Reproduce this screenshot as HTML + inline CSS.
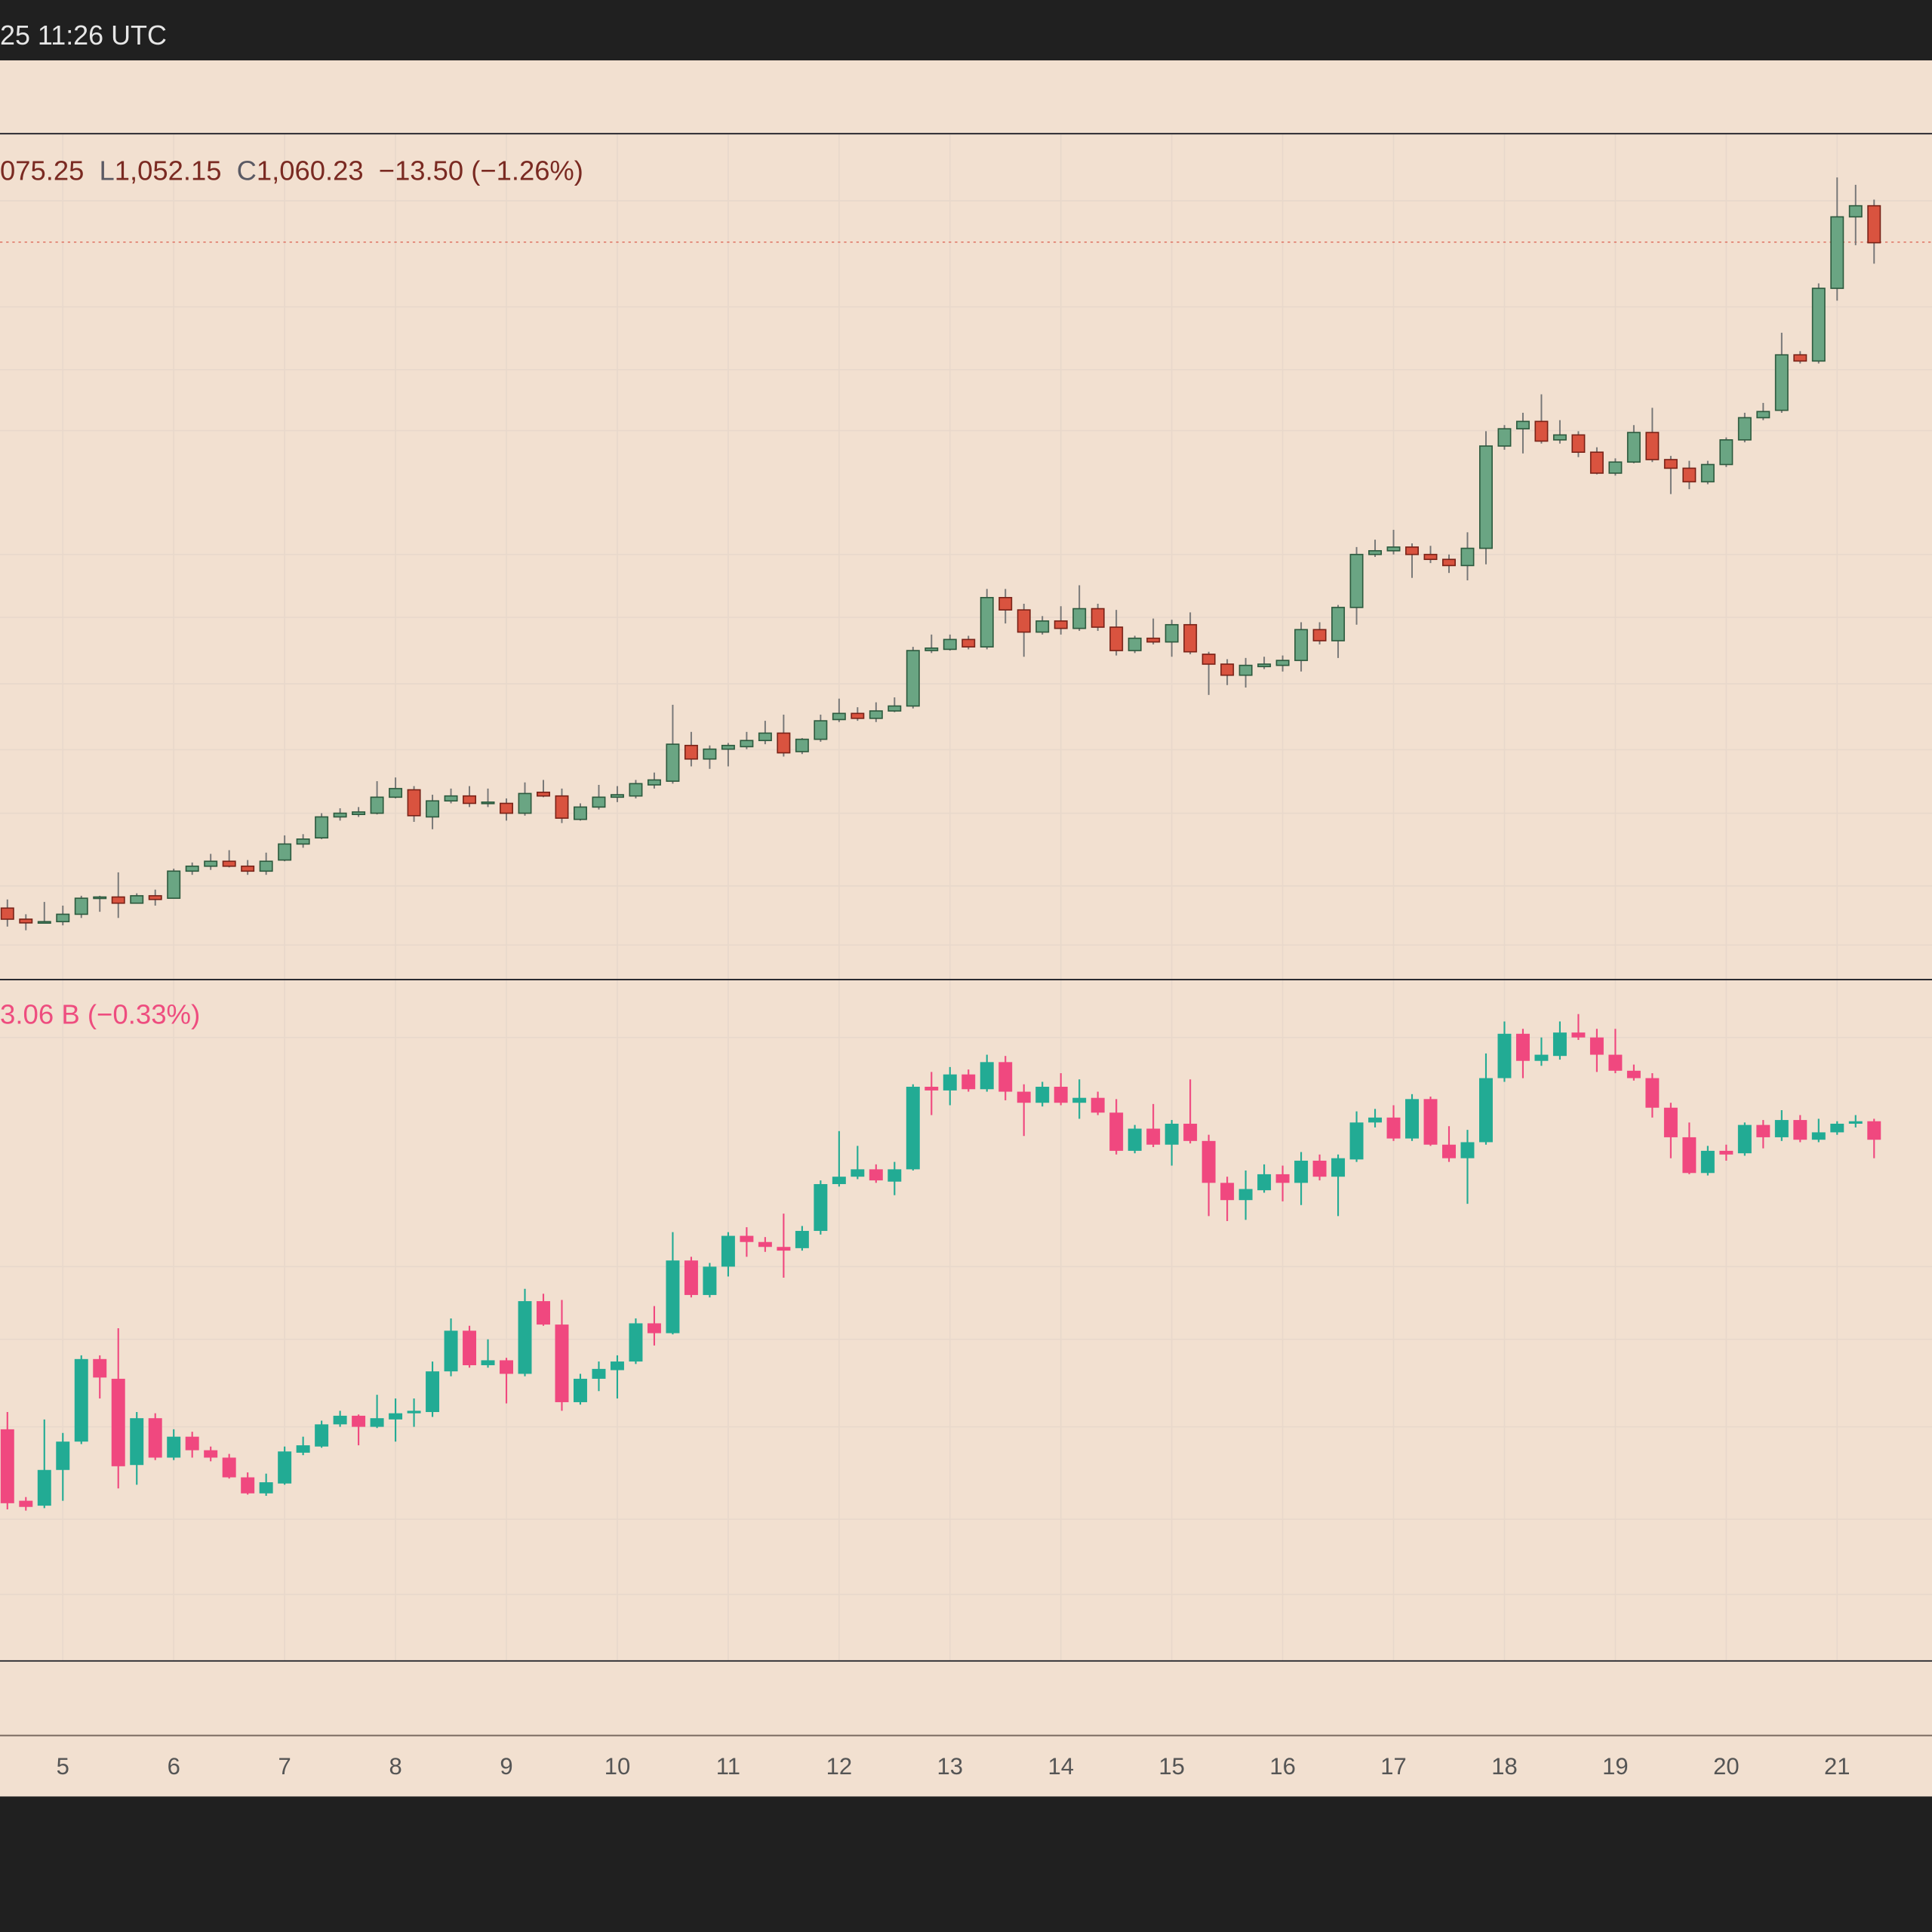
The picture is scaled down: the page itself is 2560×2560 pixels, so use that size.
<!DOCTYPE html>
<html><head><meta charset="utf-8"><style>
html,body{margin:0;padding:0;background:#f2e0d0;}
svg{display:block;}
text{font-family:"Liberation Sans",sans-serif;}
</style></head><body>
<svg id="s" xmlns="http://www.w3.org/2000/svg" width="2560" height="2560" viewBox="0 0 1568 1568">
<rect x="0" y="0" width="1568" height="1568" fill="#f2e0d0"/>
<g id="grid" stroke="#e8d8cb" stroke-width="1"></g>
<rect x="0" y="0" width="1568" height="49" fill="#202020"/>
<text x="0" y="36" font-size="22" fill="#e6e6e6">25 11:26 UTC</text>
<line x1="0" y1="108.5" x2="1568" y2="108.5" stroke="#2a2a30" stroke-width="1.2"/>
<line x1="0" y1="795" x2="1568" y2="795" stroke="#2a2a30" stroke-width="1.2"/>
<line x1="0" y1="1348" x2="1568" y2="1348" stroke="#2a2a30" stroke-width="1.2"/>
<line x1="0" y1="1408.5" x2="1568" y2="1408.5" stroke="#7a6a60" stroke-width="1.2"/>
<rect x="0" y="1458" width="1568" height="110" fill="#202020"/>
<line x1="0" y1="196.5" x2="1568" y2="196.5" stroke="#e07a6a" stroke-width="1" stroke-dasharray="2,3"/>
<text x="0" y="146" font-size="22.3" fill="#7a2a22" xml:space="preserve">075.25  <tspan fill="#5a5a64">L</tspan>1,052.15  <tspan fill="#5a5a64">C</tspan>1,060.23  −13.50 (−1.26%)</text>
<text x="0" y="831" font-size="22.4" fill="#ee4d7f">3.06 B (−0.33%)</text>
<g id="ax" font-size="19" fill="#555" text-anchor="middle"></g>
<g id="c"></g>
</svg>
<script>
var ns="http://www.w3.org/2000/svg";
function el(p,t,a){var e=document.createElementNS(ns,t);for(var k in a)e.setAttribute(k,a[k]);p.appendChild(e);return e;}
var g=document.getElementById('grid');
[163,249,300,349.5,450,501,555,608.5,660,719,767].forEach(function(y){el(g,'line',{x1:0,x2:1568,y1:y,y2:y});});
[842,1028,1087,1158,1233,1294].forEach(function(y){el(g,'line',{x1:0,x2:1568,y1:y,y2:y});});
var ax=document.getElementById('ax');
for(var d=5;d<=21;d++){var x=51+(d-5)*90;el(g,'line',{x1:x,x2:x,y1:108,y2:1348});var t=el(ax,'text',{x:x,y:1440});t.textContent=d;}
var P=[[6,'r',737,746,730,752],[21,'r',746,749,742,755],[36,'g',748,749,732,749],[51,'g',742,748,735,751],[66,'g',729,742,727,745],[81,'g',728,729,727,740],[96,'r',728,733,708,745],[111,'g',727,733,725,733],[126,'r',727,730,722,735],[141,'g',707,729,705,729],[156,'g',703,707,700,710],[171,'g',699,703,693,706],[186,'r',699,703,690,704],[201,'r',703,707,698,710],[216,'g',699,707,692,710],[231,'g',685,698,678,699],[246,'g',681,685,677,688],[261,'g',663,680,660,681],[276,'g',660,663,656,666],[291,'g',659,661,655,663],[306,'g',647,660,634,661],[321,'g',640,647,631,648],[336,'r',641,662,638,667],[351,'g',650,663,645,673],[366,'g',646,650,640,652],[381,'r',646,652,638,655],[396,'g',651,652,640,655],[411,'r',652,660,648,666],[426,'g',644,660,635,662],[441,'r',643,646,633,647],[456,'r',646,664,640,668],[471,'g',655,665,652,666],[486,'g',647,655,637,657],[501,'g',645,647,638,651],[516,'g',636,646,633,648],[531,'g',633,637,627,640],[546,'g',604,634,572,636],[561,'r',605,616,594,622],[576,'g',608,616,605,624],[591,'g',605,608,603,622],[606,'g',601,606,594,608],[621,'g',595,601,585,604],[636,'r',595,611,580,614],[651,'g',600,610,599,612],[666,'g',585,600,580,602],[681,'g',579,584,567,586],[696,'r',579,583,574,585],[711,'g',577,583,570,586],[726,'g',573,577,566,578],[741,'g',528,573,525,575],[756,'g',526,528,515,530],[771,'g',519,527,515,528],[786,'r',519,525,516,527],[801,'g',485,525,478,527],[816,'r',485,495,478,506],[831,'r',495,513,490,533],[846,'g',504,513,500,515],[861,'r',504,510,492,515],[876,'g',494,510,475,512],[891,'r',494,509,490,512],[906,'r',509,528,495,532],[921,'g',518,528,516,530],[936,'r',518,521,502,523],[951,'g',507,521,503,533],[966,'r',507,529,497,531],[981,'r',531,539,529,564],[996,'r',539,548,535,556],[1011,'g',540,548,534,558],[1026,'g',539,541,533,543],[1041,'g',536,540,532,545],[1056,'g',511,536,505,545],[1071,'r',511,520,505,523],[1086,'g',493,520,491,534],[1101,'g',450,493,444,507],[1116,'g',447,450,438,452],[1131,'g',444,447,430,450],[1146,'r',444,450,441,469],[1161,'r',450,454,443,457],[1176,'r',454,459,450,465],[1191,'g',445,459,432,471],[1206,'g',362,445,350,458],[1221,'g',348,362,345,365],[1236,'g',342,348,335,368],[1251,'r',342,358,320,360],[1266,'g',353,357,341,360],[1281,'r',353,367,350,371],[1296,'r',367,384,363,385],[1311,'g',375,384,372,386],[1326,'g',351,375,345,376],[1341,'r',351,373,331,375],[1356,'r',373,380,370,401],[1371,'r',380,391,374,397],[1386,'g',377,391,374,393],[1401,'g',357,377,355,379],[1416,'g',339,357,335,359],[1431,'g',334,339,327,341],[1446,'g',288,333,270,335],[1461,'r',288,293,285,295],[1476,'g',234,293,230,295],[1491,'g',176,234,144,244],[1506,'g',167,176,150,199],[1521,'r',167,197,162,214]];
var V=[[6,'r',1160,1220,1146,1225],[21,'r',1218,1223,1215,1226],[36,'g',1193,1222,1152,1224],[51,'g',1170,1193,1163,1218],[66,'g',1103,1170,1100,1172],[81,'r',1103,1118,1100,1135],[96,'r',1119,1190,1078,1208],[111,'g',1151,1189,1146,1205],[126,'r',1151,1183,1147,1185],[141,'g',1166,1183,1160,1185],[156,'r',1166,1177,1162,1183],[171,'r',1177,1183,1174,1186],[186,'r',1183,1199,1180,1200],[201,'r',1199,1212,1195,1213],[216,'g',1203,1212,1196,1214],[231,'g',1178,1204,1174,1205],[246,'g',1173,1179,1166,1181],[261,'g',1156,1174,1153,1175],[276,'g',1149,1156,1145,1158],[291,'r',1149,1158,1148,1173],[306,'g',1151,1158,1132,1159],[321,'g',1147,1152,1135,1170],[336,'g',1145,1147,1135,1158],[351,'g',1113,1146,1105,1150],[366,'g',1080,1113,1070,1117],[381,'r',1080,1108,1076,1110],[396,'g',1104,1108,1087,1110],[411,'r',1104,1115,1102,1139],[426,'g',1056,1115,1046,1117],[441,'r',1056,1075,1050,1076],[456,'r',1075,1138,1055,1145],[471,'g',1119,1138,1115,1140],[486,'g',1111,1119,1105,1129],[501,'g',1105,1112,1100,1135],[516,'g',1074,1105,1070,1107],[531,'r',1074,1082,1060,1092],[546,'g',1023,1082,1000,1083],[561,'r',1023,1051,1020,1053],[576,'g',1028,1051,1025,1053],[591,'g',1003,1028,1000,1036],[606,'r',1003,1008,996,1020],[621,'r',1008,1012,1004,1016],[636,'r',1012,1015,985,1037],[651,'g',999,1013,995,1015],[666,'g',961,999,958,1002],[681,'g',955,961,918,963],[696,'g',949,955,930,957],[711,'r',949,958,945,960],[726,'g',949,959,943,970],[741,'g',882,949,880,950],[756,'r',882,885,870,905],[771,'g',872,885,866,897],[786,'r',872,884,868,886],[801,'g',862,884,856,886],[816,'r',862,886,857,893],[831,'r',886,895,880,922],[846,'g',882,895,878,898],[861,'r',882,895,871,897],[876,'g',891,895,876,908],[891,'r',891,903,886,905],[906,'r',903,934,892,937],[921,'g',916,934,913,936],[936,'r',916,929,896,931],[951,'g',912,929,909,946],[966,'r',912,926,876,928],[981,'r',926,960,921,987],[996,'r',960,974,955,991],[1011,'g',965,974,950,990],[1026,'g',953,966,945,968],[1041,'r',953,960,946,975],[1056,'g',942,960,935,978],[1071,'r',942,955,937,958],[1086,'g',940,955,937,987],[1101,'g',911,941,902,943],[1116,'g',907,911,900,915],[1131,'r',907,924,897,926],[1146,'g',892,924,888,926],[1161,'r',892,929,890,930],[1176,'r',929,940,914,943],[1191,'g',927,940,917,977],[1206,'g',875,927,855,929],[1221,'g',839,875,829,878],[1236,'r',839,861,835,875],[1251,'g',856,861,842,865],[1266,'g',838,857,829,860],[1281,'r',838,842,823,844],[1296,'r',842,856,835,870],[1311,'r',856,869,835,871],[1326,'r',869,875,864,877],[1341,'r',875,899,871,907],[1356,'r',899,923,895,940],[1371,'r',923,952,911,953],[1386,'g',934,952,930,954],[1401,'r',934,937,929,942],[1416,'g',913,936,911,938],[1431,'r',913,923,909,932],[1446,'g',909,923,901,926],[1461,'r',909,925,905,927],[1476,'g',919,925,908,927],[1491,'g',912,919,910,921],[1506,'g',910,912,905,915],[1521,'r',910,925,908,940]];
var c=document.getElementById('c');
P.forEach(function(a){var x=a[0],up=a[1]=='g';
el(c,'line',{x1:x,x2:x,y1:a[4],y2:a[5],stroke:'#777',"stroke-width":1.2});
var h=Math.max(a[3]-a[2],1.2);
el(c,'rect',{x:x-5,y:a[2],width:10,height:h,fill:up?'#6aa583':'#d9533f',stroke:up?'#2d5a3e':'#7a2318',"stroke-width":1});});
V.forEach(function(a){var x=a[0],col=a[1]=='g'?'#22ab94':'#f0487f';
el(c,'line',{x1:x,x2:x,y1:a[4],y2:a[5],stroke:col,"stroke-width":1.3});
var h=Math.max(a[3]-a[2],2);
el(c,'rect',{x:x-5.5,y:a[2],width:11,height:h,fill:col});});
</script>
</body></html>
